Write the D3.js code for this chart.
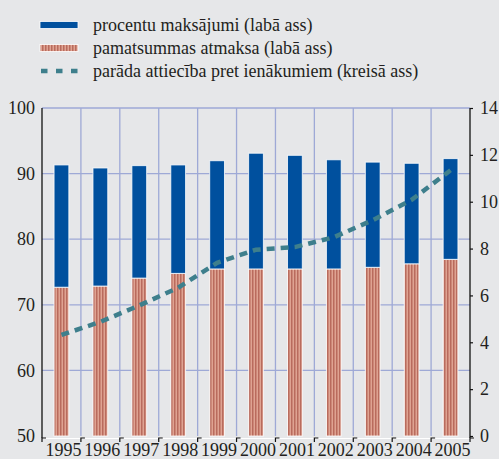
<!DOCTYPE html>
<html lang="lv">
<head>
<meta charset="UTF-8">
<title>Parāda apkalpošana</title>
<script src="https://d3js.org/d3.v7.min.js"></script>
<style>
  html, body { margin: 0; padding: 0; background: #e6e7e9; }
  svg { display: block; }
  svg text { font-family: "Liberation Serif", "Times New Roman", Tinos, Times, "DejaVu Serif", serif; fill: #231f20; }
</style>
</head>
<body>
<svg id="chart" width="499" height="459"></svg>
<script>
// data
const years = ["1995","1996","1997","1998","1999","2000","2001","2002","2003","2004","2005"];
const pamatsumma = [6.35, 6.40, 6.74, 6.94, 7.13, 7.13, 7.13, 7.13, 7.20, 7.35, 7.54];
const procenti   = [5.22, 5.04, 4.80, 4.63, 4.62, 4.94, 4.85, 4.66, 4.49, 4.29, 4.30];
const paradaAttieciba = [65.4, 67.4, 69.9, 72.6, 76.4, 78.4, 78.8, 80.3, 82.9, 86.0, 90.5];
const leftTicks = [50, 60, 70, 80, 90, 100];
const rightTicks = [0, 2, 4, 6, 8, 10, 12, 14];
const legendLabels = [
  "procentu maksājumi (labā ass)",
  "pamatsummas atmaksa (labā ass)",
  "parāda attiecība pret ienākumiem (kreisā ass)"
];

const svg = d3.select("#chart");
const x0 = 42, x1 = 470, yTop = 108, yBot = 436;

const x = d3.scaleBand().domain(years).range([x0, x1]).paddingInner(0.62).paddingOuter(0.31);
const band = d3.scaleBand().domain(years).range([x0, x1]);
const yL = d3.scaleLinear().domain([50, 100]).range([yBot, yTop]);
const yR = d3.scaleLinear().domain([0, 14]).range([yBot, yTop]);

// stripe pattern for pamatsumma
const defs = svg.append("defs");
const pat = defs.append("pattern").attr("id", "stripes")
  .attr("patternUnits", "userSpaceOnUse").attr("width", 3).attr("height", 4);
pat.append("rect").attr("width", 3).attr("height", 4).attr("fill", "#dfa392");
pat.append("rect").attr("width", 1.5).attr("height", 4).attr("fill", "#b96b5d");

// grid
const grid = svg.append("g");
grid.selectAll("line.h").data(leftTicks.slice(1)).join("line")
  .attr("x1", x0).attr("x2", x1)
  .attr("y1", d => yL(d)).attr("y2", d => yL(d))
  .attr("stroke", "#9ea9d6").attr("stroke-width", 1.3);
grid.selectAll("line.v").data(years.slice(1)).join("line")
  .attr("x1", d => band(d)).attr("x2", d => band(d))
  .attr("y1", yTop).attr("y2", yBot)
  .attr("stroke", "#9ea9d6").attr("stroke-width", 1.3);

// stacked bars
const rows = years.map((y, i) => ({ year: y, pamatsumma: pamatsumma[i], procenti: procenti[i] }));
const stack = d3.stack().keys(["pamatsumma", "procenti"])(rows);
const fills = { pamatsumma: "url(#stripes)", procenti: "#00509e" };

svg.append("g").selectAll("g").data(stack).join("g")
  .attr("fill", d => fills[d.key])
  .selectAll("rect").data(d => d).join("rect")
  .attr("x", d => x(d.data.year))
  .attr("width", x.bandwidth())
  .attr("y", d => yR(d[1]))
  .attr("height", d => yR(d[0]) - yR(d[1]))
  .attr("stroke", "#ffffff").attr("stroke-opacity", 0.8).attr("stroke-width", 1);

// debt ratio line
const line = d3.line().x((d, i) => band(years[i]) + band.bandwidth() / 2).y(d => yL(d));
svg.append("path").datum(paradaAttieciba)
  .attr("d", line).attr("fill", "none")
  .attr("stroke", "#3e7f8c").attr("stroke-width", 4.5)
  .attr("stroke-dasharray", "8,6");

// axes
const axL = svg.append("g").attr("transform", `translate(${x0},0)`)
  .call(d3.axisLeft(yL).tickValues(leftTicks).tickSize(0).tickPadding(7));
axL.attr("font-family", null);
axL.select(".domain").remove();
axL.selectAll("text").attr("font-size", 18);
svg.append("line").attr("x1", x0).attr("x2", x0).attr("y1", yTop).attr("y2", yBot + 2)
  .attr("stroke", "#111").attr("stroke-width", 1.3);

const axR = svg.append("g").attr("transform", `translate(${x1},0)`)
  .call(d3.axisRight(yR).tickValues(rightTicks).tickSize(3).tickPadding(7));
axR.attr("font-family", null);
axR.select(".domain").remove();
axR.selectAll("line").attr("stroke", "#111").attr("stroke-width", 1.2);
axR.selectAll("text").attr("font-size", 18);
svg.append("line").attr("x1", x1).attr("x2", x1).attr("y1", yTop).attr("y2", yBot + 2)
  .attr("stroke", "#111").attr("stroke-width", 1.3);

const axB = svg.append("g").attr("transform", `translate(0,${yBot + 2})`)
  .call(d3.axisBottom(band).tickSize(0).tickPadding(5));
axB.attr("font-family", null);
axB.select(".domain").attr("stroke", "#ffffff").attr("stroke-width", 1);
axB.selectAll("text").attr("font-size", 18).attr("dx", 2);
svg.append("g").selectAll("path").data(years.concat(["end"])).join("path")
  .attr("d", (d, i) => {
    const bx = i < years.length ? band(d) : x1;
    return `M${bx},${yBot + 6}V${yBot + 2}h4`;
  })
  .attr("fill", "none").attr("stroke", "#111").attr("stroke-width", 1.2);

// legend
const leg = svg.append("g");
const rowsY = [25, 48, 71];
leg.append("rect").attr("x", 40).attr("y", rowsY[0] - 3.5).attr("width", 38).attr("height", 7)
  .attr("fill", "#00509e").attr("stroke", "#fff").attr("stroke-width", 0.8);
leg.append("rect").attr("x", 40).attr("y", rowsY[1] - 3.5).attr("width", 38).attr("height", 7)
  .attr("fill", "url(#stripes)").attr("stroke", "#fff").attr("stroke-width", 0.8);
leg.append("line").attr("x1", 41).attr("x2", 79).attr("y1", rowsY[2]).attr("y2", rowsY[2])
  .attr("stroke", "#3e7f8c").attr("stroke-width", 4.5).attr("stroke-dasharray", "6.5,8.5");
leg.selectAll("text").data(legendLabels).join("text")
  .attr("x", 93).attr("y", (d, i) => rowsY[i] + 6)
  .attr("font-size", 18)
  .text(d => d);
</script>
</body>
</html>
